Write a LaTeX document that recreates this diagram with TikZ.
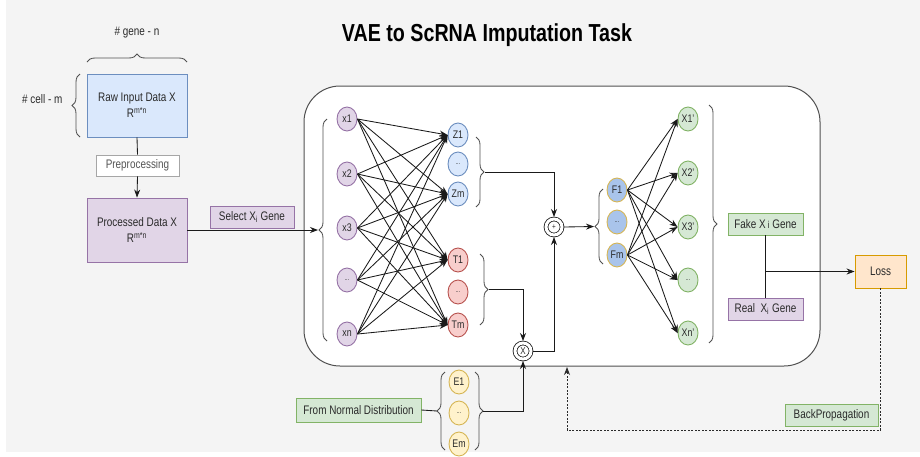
\documentclass[tikz,border=0pt]{standalone}
\usepackage{fontspec}
\setmainfont{Liberation Sans}[FakeStretch=0.8]
\usetikzlibrary{arrows.meta,shapes.geometric,decorations.pathreplacing}
\definecolor{bg}{HTML}{F4F4F4}
\definecolor{txt}{HTML}{2A2A2A}
\definecolor{linec}{HTML}{1A1A1A}
\definecolor{brc}{HTML}{505050}
\definecolor{bluef}{HTML}{DAE8FC}
\definecolor{blued}{HTML}{6C8EBF}
\definecolor{purpf}{HTML}{E1D5E7}
\definecolor{purpd}{HTML}{9673A6}
\definecolor{greenf}{HTML}{D5E8D4}
\definecolor{greend}{HTML}{82B366}
\definecolor{redf}{HTML}{F8CECC}
\definecolor{redd}{HTML}{B85450}
\definecolor{yelf}{HTML}{FFF2CC}
\definecolor{yeld}{HTML}{D6B656}
\definecolor{lossf}{HTML}{FFE6CC}
\definecolor{lossd}{HTML}{D79B00}
\definecolor{fblue}{HTML}{A9C4EB}
\begin{document}
\begin{tikzpicture}[x=1pt,y=-1pt,font=\fontsize{12.4}{16}\selectfont,
  box/.style={draw, line width=0.9pt, inner sep=0pt, align=center, text=txt},
  bluebox/.style={box, fill=bluef, draw=blued},
  purpbox/.style={box, fill=purpf, draw=purpd},
  greenbox/.style={box, fill=greenf, draw=greend},
  nd/.style={ellipse, draw, line width=0.9pt, minimum width=20pt, minimum height=24pt, inner sep=0pt, font=\fontsize{11}{12}\selectfont, text=txt},
  xnode/.style={nd, fill=purpf, draw=purpd},
  znode/.style={nd, fill=bluef, draw=blued},
  tnode/.style={nd, fill=redf, draw=redd},
  fnode/.style={nd, fill=fblue, draw=yeld},
  onode/.style={nd, fill=greenf, draw=greend},
  enode/.style={nd, fill=yelf, draw=yeld},
  opnode/.style={circle, draw=linec, double=white, double distance=3pt, line width=0.8pt, minimum size=16pt, inner sep=0pt, outer sep=2pt, text=txt},
  arr/.style={-{Stealth[length=8pt,width=6pt]}, line width=0.85pt, draw=linec},
  ln/.style={line width=0.85pt, draw=linec},
  br/.style={decorate, decoration={brace, amplitude=8pt}, line width=0.85pt, draw=brc},
  bp/.style={-{Stealth[length=8pt,width=6pt]}, line width=0.9pt, draw=txt, dash pattern=on 2pt off 1.5pt},
  dots/.style={font=\fontsize{7}{8}\selectfont}
]
\useasboundingbox (0,0) rectangle (920,456);
\fill[white] (0,0) rectangle (920,456);
\fill[bg] (6,0) rectangle (920,452);

% title
\node[font=\fontsize{24.6}{28}\selectfont\bfseries, text=black] (title) at (487,35) {VAE to ScRNA Imputation Task};

% big VAE box
\node[draw=brc, fill=white, line width=1pt, rounded corners=36pt, minimum width=516pt, minimum height=280pt] (vae) at (562,226) {};

% left data boxes
\node[text=txt] (genelab) at (137,33) {\# gene - n};
\node[text=txt, anchor=east] (celllab) at (66,99) {\# cell - m};
\node[bluebox, minimum width=100pt, minimum height=63pt] (raw) at (137,105.5) {Raw Input Data X\\R\textsuperscript{m*n}};
\node[box, fill=white, draw=gray!70, text=txt!80, minimum width=83pt, minimum height=21pt] (pre) at (137.5,165.5) {Preprocessing};
\node[purpbox, minimum width=100pt, minimum height=64pt] (proc) at (137,230) {Processed Data X\\R\textsuperscript{m*n}};
\node[purpbox, minimum width=84pt, minimum height=22pt] (sel) at (252,217) {Select X\textsubscript{i} Gene};

\draw[br] (87,62) -- (187,62);
\draw[br] (80,137) -- (80,74);
\draw[ln] (raw.south) -- (pre.north);
\draw[arr] (pre.south) -- (proc.north);

% input layer
\node[xnode] (x1) at (347,119) {x1};
\node[xnode] (x2) at (347,174) {x2};
\node[xnode] (x3) at (347,228) {x3};
\node[xnode, dots] (x4) at (347,280) {...};
\node[xnode] (x5) at (347,334) {xn};
\draw[br] (327,341) -- (327,119);
\coordinate (xtip) at (318,230);
\draw[arr] (proc.east) -- (xtip);

% latent layers
\node[znode] (z1) at (458,135) {Z1};
\node[znode, dots] (z2) at (458,164) {...};
\node[znode] (zm) at (458,194) {Zm};
\node[tnode] (t1) at (458,260) {T1};
\node[tnode, dots] (t2) at (458,292) {...};
\node[tnode] (tm) at (458,325) {Tm};

\foreach \s in {x1,x2,x3,x4,x5}
  \foreach \t in {z1,zm,t1,tm}
    \draw[arr] (\s.east) -- (\t.west);

\draw[br] (476,137) -- (476,207);
\coordinate (ztip) at (485,172);
\draw[br] (480,254) -- (480,325);
\coordinate (ttip) at (489,289.5);

% operations
\node[opnode, font=\fontsize{8}{9}\selectfont] (plus) at (554,227) {+};
\node[opnode, font=\fontsize{10}{11}\selectfont] (mult) at (523,351) {X};
\draw[arr] (ztip) -| (plus.north);
\draw[arr] (ttip) -| (mult.north);
\draw[arr] (mult.east) -| (plus.south);

% noise
\node[greenbox, minimum width=125pt, minimum height=24pt] (nd) at (358.5,410) {From Normal Distribution};
\node[enode] (e1) at (459,382) {E1};
\node[enode, dots] (e2) at (459,413) {...};
\node[enode] (em) at (459,444) {Em};
\draw[br] (445,450) -- (445,372);
\coordinate (eltip) at (437,411);
\draw[br] (475,372) -- (475,450);
\coordinate (ertip) at (483,411);
\draw[ln] (nd.east) -- (eltip);
\draw[arr] (ertip) -| (mult.south);

% decoder
\node[fnode] (f1) at (617,190) {F1};
\node[fnode, dots] (f2) at (617,222) {...};
\node[fnode] (fm) at (617,255) {Fm};
\draw[br] (603,264) -- (603,189);
\coordinate (ftip) at (594,226.5);
\draw[arr] (plus.east) -- (ftip);

\node[onode] (o1) at (688,119) {X1'};
\node[onode] (o2) at (688,173) {X2'};
\node[onode] (o3) at (688,227) {X3'};
\node[onode, dots] (o4) at (688,280) {...};
\node[onode] (o5) at (688,333) {Xn'};
\foreach \s in {f1,fm}
  \foreach \t in {o1,o2,o3,o4,o5}
    \draw[arr] (\s.east) -- (\t.west);
\draw[br] (709,105) -- (709,343);

% loss
\node[greenbox, minimum width=75pt, minimum height=22pt] (fake) at (765.5,224) {Fake X\,{\fontsize{10}{11}\selectfont i} Gene};
\node[purpbox, minimum width=75pt, minimum height=22pt] (real) at (765.5,309) {Real\ \ X\textsubscript{i} Gene};
\node[box, fill=lossf, draw=lossd, minimum width=51pt, minimum height=33pt] (loss) at (880.5,271.5) {Loss};
\coordinate (junc) at (765.5,271.5);
\draw[ln] (fake.south) -- (real.north);
\draw[arr] (junc) -- (loss.west);

% backpropagation
\node[greenbox, minimum width=93pt, minimum height=22pt] (bpl) at (831.5,415) {BackPropagation};
\coordinate (bpc1) at (880.5,430);
\coordinate (bpc2) at (567,430);
\coordinate (bpend) at (567,367);
\draw[bp] (loss.south) -- (bpc1) -- (bpc2) -- (bpend);
\end{tikzpicture}
\end{document}
